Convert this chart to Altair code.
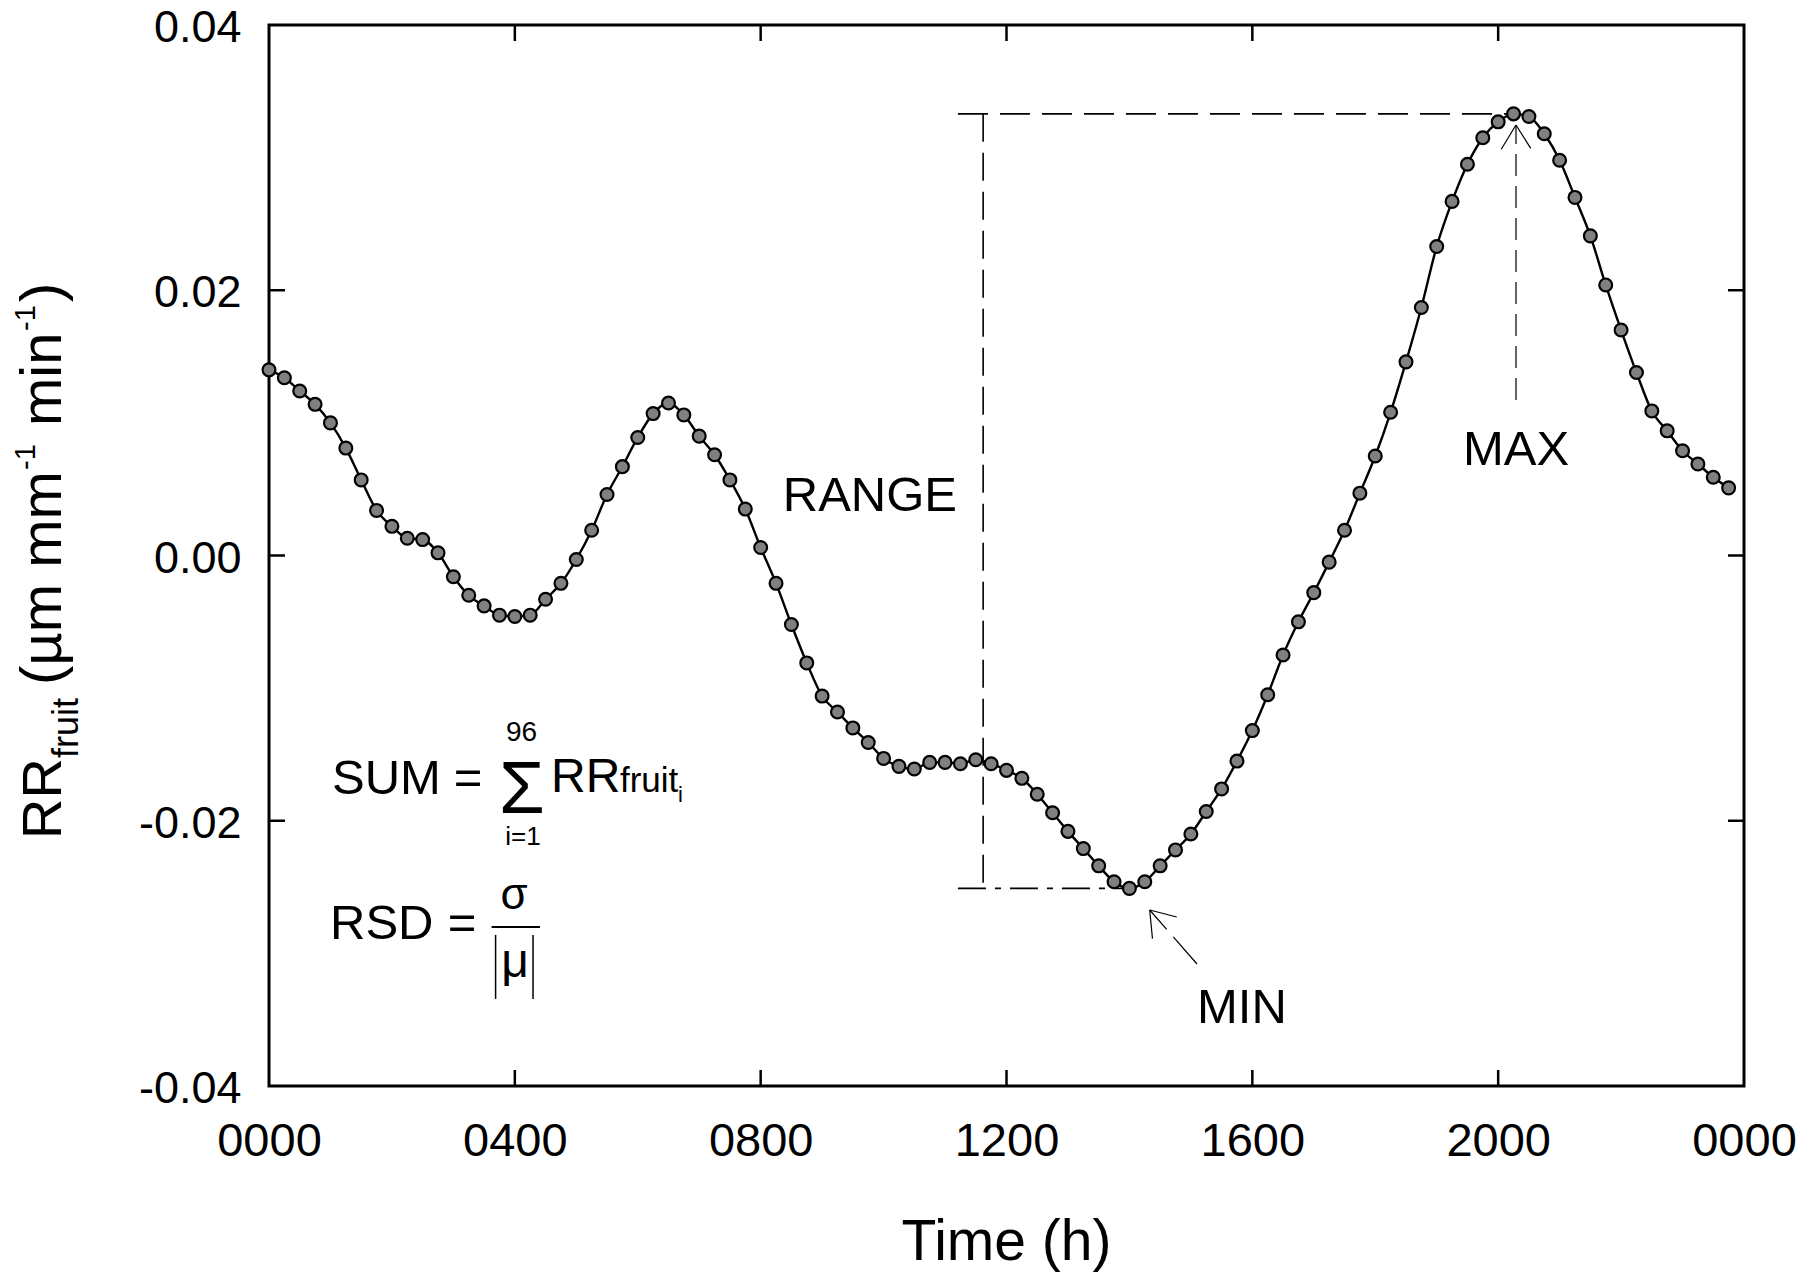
import altair as alt
import pandas as pd

# ---------------- data ----------------
hours = [
    0.00, 0.25, 0.50, 0.75, 1.00, 1.25, 1.50, 1.75,
    2.00, 2.25, 2.50, 2.75, 3.00, 3.25, 3.50, 3.75,
    4.00, 4.25, 4.50, 4.75, 5.00, 5.25, 5.50, 5.75,
    6.00, 6.25, 6.50, 6.75, 7.00, 7.25, 7.50, 7.75,
    8.00, 8.25, 8.50, 8.75, 9.00, 9.25, 9.50, 9.75,
    10.00, 10.25, 10.50, 10.75, 11.00, 11.25, 11.50, 11.75,
    12.00, 12.25, 12.50, 12.75, 13.00, 13.25, 13.50, 13.75,
    14.00, 14.25, 14.50, 14.75, 15.00, 15.25, 15.50, 15.75,
    16.00, 16.25, 16.50, 16.75, 17.00, 17.25, 17.50, 17.75,
    18.00, 18.25, 18.50, 18.75, 19.00, 19.25, 19.50, 19.75,
    20.00, 20.25, 20.50, 20.75, 21.00, 21.25, 21.50, 21.75,
    22.00, 22.25, 22.50, 22.75, 23.00, 23.25, 23.50, 23.75,
]
rr_fruit = [
    0.0140, 0.0134, 0.0124, 0.0114, 0.0100, 0.0081, 0.0057, 0.0034,
    0.0022, 0.0013, 0.0012, 0.0002, -0.0016, -0.0030, -0.0038, -0.0045,
    -0.0046, -0.0045, -0.0033, -0.0021, -0.0003, 0.0019, 0.0046, 0.0067,
    0.0089, 0.0107, 0.0115, 0.0106, 0.0090, 0.0076, 0.0057, 0.0035,
    0.0006, -0.0021, -0.0052, -0.0081, -0.0106, -0.0118, -0.0130, -0.0141,
    -0.0153, -0.0159, -0.0161, -0.0156, -0.0156, -0.0157, -0.0154, -0.0157,
    -0.0162, -0.0168, -0.0180, -0.0194, -0.0208, -0.0221, -0.0234, -0.0246,
    -0.0251, -0.0246, -0.0234, -0.0222, -0.0210, -0.0193, -0.0176, -0.0155,
    -0.0132, -0.0105, -0.0075, -0.0050, -0.0028, -0.0005, 0.0019, 0.0047,
    0.0075, 0.0108, 0.0146, 0.0187, 0.0233, 0.0267, 0.0295, 0.0315,
    0.0327, 0.0333, 0.0331, 0.0318, 0.0298, 0.0270, 0.0241, 0.0204,
    0.0170, 0.0138, 0.0109, 0.0094, 0.0079, 0.0069, 0.0059, 0.0051,
]

x_tick_values = [0, 4, 8, 12, 16, 20, 24]
y_tick_values = [-0.04, -0.02, 0.0, 0.02, 0.04]
x_inner_ticks = [4, 8, 12, 16, 20]
y_inner_ticks = [-0.02, 0.0, 0.02]

max_value = 0.0333
min_value = -0.0251

# ---------------- layout ----------------
W, H = 1475, 1061
FONT = "Liberation Sans"
TICK = 16

df = pd.DataFrame({"t": hours, "v": rr_fruit})

xs = alt.Scale(domain=[0, 24], nice=False, zero=False)
ys = alt.Scale(domain=[-0.04, 0.04], nice=False, zero=False)


def X(f="t"):
    return alt.X(f"{f}:Q", scale=xs, title=None)


def Y(f="v"):
    return alt.Y(f"{f}:Q", scale=ys, title=None)


x_axis = alt.Axis(
    values=x_tick_values,
    labelExpr="datum.value == 24 ? '0000' : (datum.value < 10 ? '0' : '') + datum.value + '00'",
    ticks=False, tickSize=0, domain=False, grid=False,
    labelFont=FONT, labelFontSize=47, labelColor="black",
    labelPadding=32, labelFlush=False,
)
y_axis = alt.Axis(
    values=y_tick_values,
    labelExpr="datum.value < 0 ? '-' + format(-datum.value, '.2f') : format(datum.value, '.2f')",
    ticks=False, tickSize=0, domain=False, grid=False,
    labelFont=FONT, labelFontSize=45, labelColor="black",
    labelPadding=28, labelOffset=2.5, labelFlush=False,
)

line = alt.Chart(df).mark_line(color="black", strokeWidth=2.4, interpolate="monotone").encode(
    x=alt.X("t:Q", scale=xs, title=None, axis=x_axis),
    y=alt.Y("v:Q", scale=ys, title=None, axis=y_axis),
)
points = alt.Chart(df).mark_circle(
    size=165, fill="#808080", stroke="black", strokeWidth=2.2, opacity=1
).encode(x=X(), y=Y())

# ---------------- inward ticks ----------------
xt = pd.DataFrame({"t": x_inner_ticks})
yt = pd.DataFrame({"v": y_inner_ticks})
tick_bottom = alt.Chart(xt).mark_rule(color="black", strokeWidth=2.5).encode(
    x=X(), y=alt.value(H), y2=alt.value(H - TICK))
tick_top = alt.Chart(xt).mark_rule(color="black", strokeWidth=2.5).encode(
    x=X(), y=alt.value(0), y2=alt.value(TICK))
tick_left = alt.Chart(yt).mark_rule(color="black", strokeWidth=2.5).encode(
    y=Y(), x=alt.value(0), x2=alt.value(TICK))
tick_right = alt.Chart(yt).mark_rule(color="black", strokeWidth=2.5).encode(
    y=Y(), x=alt.value(W), x2=alt.value(W - TICK))

# ---------------- RANGE dimension lines ----------------
range_top = alt.Chart(pd.DataFrame({"t": [11.21], "t2": [20.25], "v": [max_value]})).mark_rule(
    color="black", strokeWidth=1.6, strokeDash=[30, 12]).encode(x=X(), x2="t2:Q", y=Y())
range_vert = alt.Chart(pd.DataFrame({"t": [11.62], "v": [max_value], "v2": [min_value]})).mark_rule(
    color="black", strokeWidth=1.6, strokeDash=[28, 11]).encode(x=X(), y=Y(), y2="v2:Q")
range_bottom = alt.Chart(pd.DataFrame({"t": [11.21], "t2": [13.9], "v": [min_value]})).mark_rule(
    color="black", strokeWidth=1.6, strokeDash=[28, 9, 6, 9]).encode(x=X(), x2="t2:Q", y=Y())

# ---------------- MAX / MIN arrows ----------------
seg = lambda t, v, t2, v2: pd.DataFrame({"t": [t], "v": [v], "t2": [t2], "v2": [v2]})
max_shaft = alt.Chart(seg(20.29, 0.01172, 20.29, 0.03246)).mark_rule(
    color="black", strokeWidth=1.2, strokeDash=[22, 10]).encode(x=X(), y=Y(), x2="t2:Q", y2="v2:Q")
max_wings = alt.Chart(pd.DataFrame({"t": [20.05, 20.53], "v": [0.03063, 0.03070],
                                    "t2": [20.29, 20.29], "v2": [0.03246, 0.03246]})).mark_rule(
    color="black", strokeWidth=1.2).encode(x=X(), y=Y(), x2="t2:Q", y2="v2:Q")
min_shaft = alt.Chart(seg(15.10, -0.0308, 14.33, -0.02673)).mark_rule(
    color="black", strokeWidth=1.2, strokeDash=[36, 10]).encode(x=X(), y=Y(), x2="t2:Q", y2="v2:Q")
min_wings = alt.Chart(pd.DataFrame({"t": [14.375, 14.77], "v": [-0.02889, -0.02726],
                                    "t2": [14.33, 14.33], "v2": [-0.02673, -0.02673]})).mark_rule(
    color="black", strokeWidth=1.2).encode(x=X(), y=Y(), x2="t2:Q", y2="v2:Q")


def label(text, t, v, size, align="left"):
    return alt.Chart(pd.DataFrame({"t": [t], "v": [v], "label": [text]})).mark_text(
        font=FONT, fontSize=size, align=align, baseline="alphabetic", color="black"
    ).encode(x=X(), y=Y(), text="label:N")


annotations = [
    label("RANGE", 8.36, 0.00335, 49),
    label("MAX", 20.29, 0.00682, 49, "center"),
    label("MIN", 15.83, -0.03525, 49, "center"),
    # SUM formula
    label("SUM", 1.025, -0.01798, 49),
    label("=", 3.238, -0.01798, 49, "center"),
    label("Σ", 4.116, -0.01942, 74, "center"),
    label("96", 4.108, -0.01399, 28, "center"),
    label("i=1", 4.133, -0.02180, 26, "center"),
    label("RR", 4.589, -0.01783, 48),
    label("fruit", 5.711, -0.01783, 35),
    label("i", 6.654, -0.01859, 22),
    # RSD formula
    label("RSD", 0.993, -0.02892, 49),
    label("=", 3.14, -0.02892, 49, "center"),
    label("σ", 3.986, -0.02665, 44, "center"),
    label("μ", 4.003, -0.03175, 48, "center"),
]
frac_bar = alt.Chart(seg(3.622, -0.02801, 4.410, -0.02801)).mark_rule(
    color="black", strokeWidth=2).encode(x=X(), y=Y(), x2="t2:Q", y2="v2:Q")
abs_bars = alt.Chart(pd.DataFrame({"t": [3.687, 4.296], "v": [-0.02861, -0.02861],
                                   "v2": [-0.03344, -0.03344]})).mark_rule(
    color="black", strokeWidth=1.5).encode(x=X(), y=Y(), y2="v2:Q")

# ---------------- axis titles (with sub/superscripts) ----------------
def ptext(text, px, py, size, angle=0, align="left"):
    return alt.Chart(pd.DataFrame({"label": [text]})).mark_text(
        font=FONT, fontSize=size, align=align, baseline="alphabetic", color="black", angle=angle
    ).encode(x=alt.value(px), y=alt.value(py), text="label:N")


BX = -208  # baseline of rotated y title (plot px)
y_title = [
    ptext("RR", BX, 814, 56, 270),
    ptext("fruit", BX + 17, 733, 36, 270),
    ptext("(µm mm", BX, 660, 58, 270),
    ptext("-1", BX - 26, 445, 29, 270),
    ptext("min", BX, 401, 58, 270),
    ptext("-1", BX - 26, 306, 29, 270),
    ptext(")", BX, 277, 58, 270),
]
x_title = ptext("Time (h)", W / 2, 1235, 57, 0, "center")

chart = alt.layer(
    line,
    range_top, range_vert, range_bottom,
    max_shaft, max_wings, min_shaft, min_wings,
    points,
    tick_bottom, tick_top, tick_left, tick_right,
    frac_bar, abs_bars,
    *annotations,
    *y_title, x_title,
).properties(
    width=W, height=H,
    padding={"left": 261, "top": 17, "right": 60, "bottom": 186},
    autosize=alt.AutoSizeParams(type="none"),
    background="white",
).configure_view(
    stroke="black", strokeWidth=3
).configure_axis(
    grid=False, domain=False, ticks=False,
    labelFont=FONT, labelColor="black",
)

chart.save("out.html", embed_options={"renderer": "svg", "actions": False})
